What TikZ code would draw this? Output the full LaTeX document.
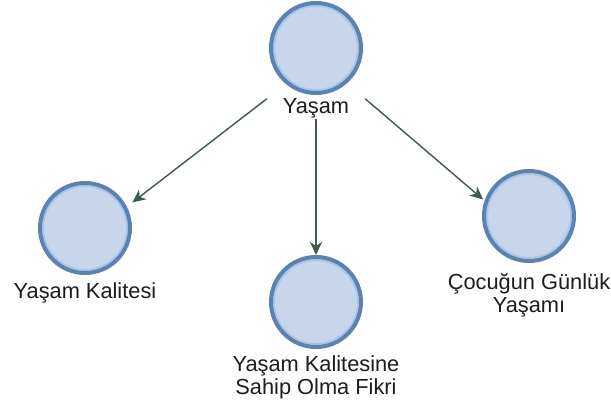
\documentclass[tikz,border=0pt]{standalone}
\usepackage{fontspec}
\setmainfont{Liberation Sans}
\usetikzlibrary{arrows.meta}
\definecolor{ringdark}{HTML}{5C82AE}
\definecolor{ringlight}{HTML}{A9C5EA}
\definecolor{discfill}{HTML}{C8D6EB}
\definecolor{arrowcol}{HTML}{3D5A4B}
\definecolor{labelcol}{HTML}{1C1C1C}
\begin{document}
\begin{tikzpicture}[x=1pt,y=-1pt,
  disc/.style={circle, draw=ringdark, fill=discfill, line width=4pt,
    minimum size=90pt, inner sep=0pt,
    path picture={\draw[ringlight, line width=2pt]
      (path picture bounding box.center) circle (42pt);}},
  lbl/.style={text=labelcol, align=center, inner sep=0pt,
    font=\fontsize{21.8}{23}\selectfont},
  arr/.style={draw=arrowcol, line width=1.4pt,
    -{Stealth[length=13pt, width=12pt, inset=4pt]}}]
  \useasboundingbox (0,0) rectangle (611,409);

  % circles
  \node[disc] (c0) at (316,48) {};
  \node[disc] (c1) at (85,228) {};
  \node[disc] (c2) at (316,302) {};
  \node[disc] (c3) at (529,216) {};

  % labels
  \node[lbl, anchor=base, minimum width=98pt] (ylab) at (316,114) {Yaşam};
  \node[lbl, anchor=base] (l1) at (85,298) {Yaşam Kalitesi};
  \node[lbl] (l2) at (316,377) {Yaşam Kalitesine\\Sahip Olma Fikri};
  \node[lbl] (l3) at (529,295) {Çocuğun Günlük\\Yaşamı};

  % connectors
  \draw[arr, shorten >=7pt] (ylab.north west) -- (c1.27);
  \draw[arr] (ylab.south) -- (c2.north);
  \draw[arr, shorten >=2pt] (ylab.north east) -- (c3.161);
\end{tikzpicture}
\end{document}
